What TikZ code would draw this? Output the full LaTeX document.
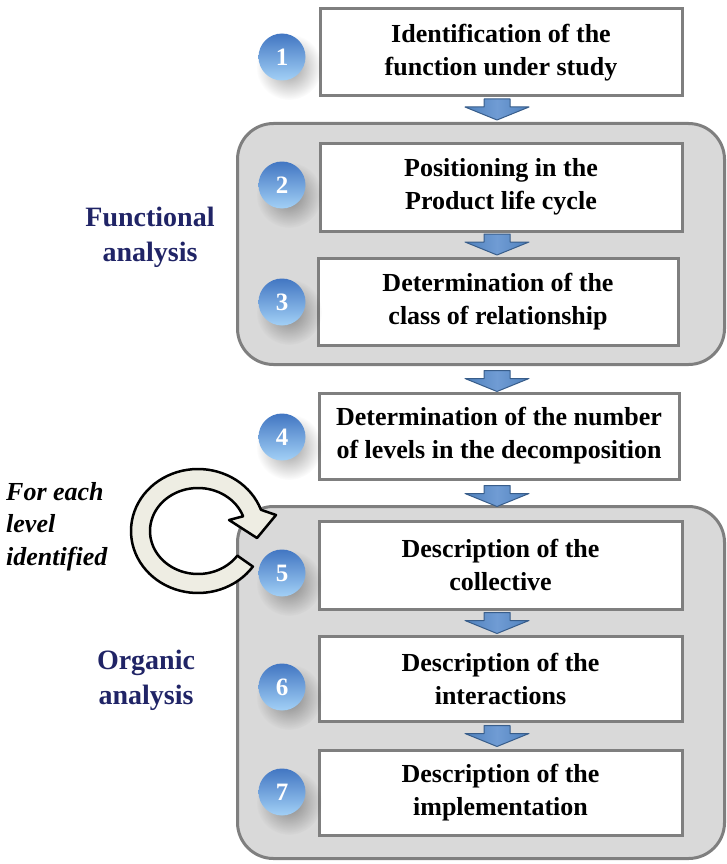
\documentclass[tikz,border=0pt]{standalone}
\usepackage{fontspec}
\setmainfont{Liberation Serif}
\usetikzlibrary{calc,fadings}

\definecolor{panelgray}{RGB}{217,217,217}
\definecolor{edgegray}{RGB}{127,127,127}
\definecolor{navy}{RGB}{32,36,102}
\definecolor{arrowblue}{RGB}{79,129,189}
\definecolor{arrowlight}{RGB}{112,156,212}
\definecolor{arrowedge}{RGB}{56,93,138}
\definecolor{balltop}{RGB}{66,118,194}
\definecolor{ballmid}{RGB}{92,142,212}
\definecolor{ballbottom}{RGB}{162,208,246}
\definecolor{ringfill}{RGB}{238,237,227}

\tikzfading[name=softshadow, inner color=transparent!0, outer color=transparent!100]

\tikzset{
  downarrow/.pic={
    \shade[left color=arrowblue, right color=arrowblue, middle color=arrowlight]
      (-13,0) -- (13,0) -- (13,8) -- (32,8) -- (0,21) -- (-32,8) -- (-13,8) -- cycle;
    \draw[draw=arrowedge, line width=1pt, line join=round]
      (-13,0) -- (13,0) -- (13,8) -- (32,8) -- (0,21) -- (-32,8) -- (-13,8) -- cycle;
  }
}

\begin{document}
\begin{tikzpicture}[x=1pt,y=-1pt,
  panel/.style={fill=panelgray, draw=edgegray, line width=3pt, rounded corners=36pt,
    minimum width=487pt, inner sep=0pt},
  stepbox/.style={draw=edgegray, fill=white, line width=3pt, align=center, inner sep=0pt,
    font=\fontsize{26}{33}\selectfont\bfseries},
  ball/.style={circle, minimum size=47pt, inner sep=0pt, top color=balltop,
    middle color=ballmid, bottom color=ballbottom, text=white,
    font=\fontsize{25}{25}\selectfont\bfseries},
  sidelabel/.style={align=center, text=navy, inner sep=0pt,
    font=\fontsize{28}{35}\selectfont\bfseries},
  note/.style={align=left, inner sep=0pt, font=\fontsize{26}{32.5}\selectfont\bfseries\itshape},
  ballshadow/.style={fill=black, opacity=0.4, path fading=softshadow}
]
\useasboundingbox (0,0) rectangle (726,864);

% grey group panels
\node[panel, minimum height=241pt] (p1) at (481,244) {};
\node[panel, minimum height=352pt] (p2) at (481,682.5) {};

% process steps
\node[stepbox, minimum width=362pt, minimum height=87pt] (b1) at (501,52.5)
  {Identification of the\\function under study};
\node[stepbox, minimum width=362pt, minimum height=88pt] (b2) at (501,187)
  {Positioning in the\\Product life cycle};
\node[stepbox, minimum width=360pt, minimum height=87pt] (b3) at (498,301.5)
  {Determination of the\\class of relationship};
\node[stepbox, minimum width=360pt, minimum height=86pt] (b4) at (499,436)
  {Determination of the number\\of levels in the decomposition};
\node[stepbox, minimum width=363pt, minimum height=88pt] (b5) at (500.5,565)
  {Description of the\\collective};
\node[stepbox, minimum width=363pt, minimum height=85pt] (b6) at (500.5,678.5)
  {Description of the\\interactions};
\node[stepbox, minimum width=363pt, minimum height=85pt] (b7) at (500.5,792.5)
  {Description of the\\implementation};

% numbered markers with soft shadows
\foreach \i/\y in {1/57,2/185,3/302,4/437,5/573,6/687,7/792} {
  \coordinate (c\i) at (282,\y);
  \fill[ballshadow] ($(c\i)+(7,10)$) circle (33);
}
\foreach \i in {1,...,7} {
  \node[ball] (n\i) at (c\i) {\i};
}

% block arrows between steps
\pic at ($(b1.south)+(-4,1.5)$) {downarrow};
\pic at ($(b2.south)+(-4,1.5)$) {downarrow};
\pic at ($(b3.south)+(-1,24)$) {downarrow};
\pic at ($(b4.south)+(-2,5)$) {downarrow};
\pic at ($(b5.south)+(-3.5,2)$) {downarrow};
\pic at ($(b6.south)+(-3.5,3)$) {downarrow};

% loop arrow
\filldraw[fill=ringfill, draw=black, line width=2.5pt, line join=round]
  plot[domain=35:340, samples=70, variable=\t] ({198+67*cos(\t)}, {531+62*sin(\t)})
  -- (276,515) -- (257,538) -- (229,520)
  -- plot[domain=340:35, samples=70, variable=\t] ({198+48*cos(\t)}, {531+43*sin(\t)})
  -- cycle;

% side labels
\node[sidelabel] (fa) at (150,237) {Functional\\analysis};
\node[sidelabel] (oa) at (146,680) {Organic\\analysis};
\node[note, anchor=north west] (fe) at (6,482) {For each\\level\\identified};
\end{tikzpicture}
\end{document}
